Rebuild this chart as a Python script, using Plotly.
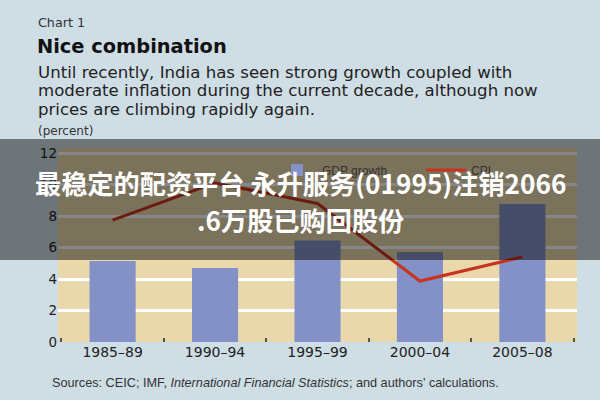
import plotly.graph_objects as go

periods = ["1985–89", "1990–94", "1995–99", "2000–04", "2005–08"]
gdp_growth = [5.15, 4.7, 6.45, 5.72, 8.76]
cpi = [7.74, 10.1, 8.8, 3.87, 5.4]
y_ticks = [0, 2, 4, 6, 8, 10, 12]

W, H = 600, 400
ML, MR, MT, MB = 58, 23, 148, 58
PW = W - ML - MR
PH = H - MT - MB


def px(x):
    return (x - ML) / PW


def py(y):
    return (H - MB - y) / PH


fig = go.Figure()
fig.add_trace(go.Bar(
    x=periods, y=gdp_growth, name="GDP growth",
    marker=dict(color="#8391c6", line=dict(width=0)),
    width=0.45, legend="legend",
))
fig.add_trace(go.Scatter(
    x=periods, y=cpi, name="CPI", mode="lines",
    line=dict(color="#c8321e", width=3), legend="legend2",
))

ann = []
ann.append(dict(text="Chart 1", x=px(36), y=py(22), font=dict(size=12.7, color="#333333", family="DejaVu Sans")))
ann.append(dict(text="<b>Nice combination</b>", x=px(35), y=py(46), font=dict(size=19.4, color="#111111", family="DejaVu Sans")))
sub = ["Until recently, India has seen strong growth coupled with",
       "moderate inflation during the current decade, although now",
       "prices are climbing rapidly again."]
for i, s in enumerate(sub):
    ann.append(dict(text=s, x=px(36), y=py(72.5 + 18.3 * i), font=dict(size=16.6, color="#222222", family="DejaVu Sans")))
ann.append(dict(text="(percent)", x=px(36), y=py(131), font=dict(size=12, color="#333333", family="DejaVu Sans")))
ann.append(dict(text="Sources: CEIC; IMF, <i>International Financial Statistics</i>; and authors' calculations.",
                x=px(50), y=py(382.5), font=dict(size=12.7, color="#333333", family="Liberation Sans")))
for a in ann:
    a.update(xref="paper", yref="paper", xanchor="left", yanchor="middle", showarrow=False)

# overlay caption
overlay = [
    dict(text="最稳定的配资平台 永升服务(01995)注销2066", y=py(183)),
    dict(text=".6万股已购回股份", y=py(220)),
]
for o in overlay:
    ann.append(dict(text="<b>" + o["text"] + "</b>", x=px(300), y=o["y"], xref="paper", yref="paper",
                    xanchor="center", yanchor="middle", showarrow=False,
                    font=dict(size=26.2, color="#ffffff", family="Noto Sans CJK SC")))

legend_style = dict(orientation="h", yanchor="middle", bgcolor="rgba(0,0,0,0)",
                    font=dict(size=12, color="#333333", family="Liberation Sans"), itemwidth=40)

fig.update_layout(
    width=W, height=H,
    margin=dict(l=ML, r=MR, t=MT, b=MB),
    paper_bgcolor="#cfdde5",
    plot_bgcolor="#e9d8ac",
    showlegend=True,
    legend=dict(x=px(272), y=py(170), xanchor="left", **legend_style),
    legend2=dict(x=px(421), y=py(170), xanchor="left", **legend_style),
    xaxis=dict(range=[-0.533, 4.533], tickson="boundaries", ticks="inside", ticklen=4, tickwidth=2,
               tickcolor="#555555", showgrid=False, zeroline=False, showline=False,
               tickfont=dict(size=14, color="#222222", family="DejaVu Sans")),
    yaxis=dict(range=[0, 12.32], tickvals=y_ticks, showgrid=True, gridcolor="#ffffff", gridwidth=2.5,
               zeroline=False, showline=False, ticks="",
               tickfont=dict(size=13.5, color="#222222", family="DejaVu Sans")),
    annotations=ann,
    shapes=[dict(type="rect", xref="paper", yref="paper", x0=px(0), x1=px(600), y0=py(260), y1=py(139),
                 fillcolor="rgba(0,0,0,0.47)", line=dict(width=0), layer="above")],
    bargap=0.55,
)

fig.write_html("out.html")
